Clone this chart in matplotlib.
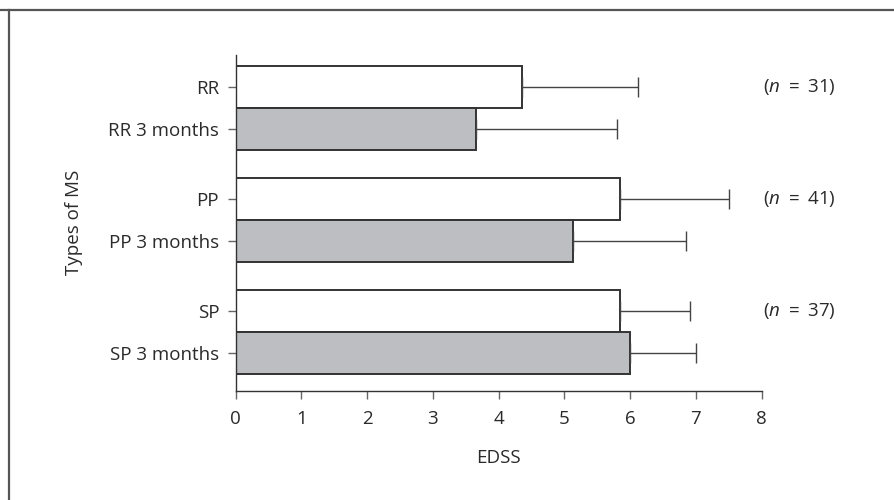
import matplotlib
matplotlib.use('Agg')
import matplotlib.pyplot as plt
from matplotlib.lines import Line2D

plt.rcParams['font.family'] = ['Open Sans', 'DejaVu Sans']
plt.rcParams['mathtext.fontset'] = 'custom'
plt.rcParams['mathtext.rm'] = 'Open Sans'
plt.rcParams['mathtext.it'] = 'Open Sans:italic'

groups = ['RR', 'PP', 'SP']
n_counts = [31, 41, 37]
baseline = [4.35, 5.85, 5.85]
baseline_sd = [1.77, 1.65, 1.06]
month3 = [3.66, 5.13, 6.0]
month3_sd = [2.14, 1.72, 1.0]

fig = plt.figure(figsize=(8.94, 5), dpi=100)
ax = fig.add_axes([0.2637, 0.2186, 0.5883, 0.6714])

# frame lines at top and left of the figure
fig.add_artist(Line2D([0, 1], [0.981, 0.981], transform=fig.transFigure, color='#555555', lw=1.6))
fig.add_artist(Line2D([0.0106, 0.0106], [0, 0.981], transform=fig.transFigure, color='#555555', lw=1.6))

fs = 13.5
txt = '#2a2a2a'
pitch = 2.67
base_y = 0.9
ypos = []
ylabels = []
err_kw = dict(ecolor='#444444', elinewidth=1.0, capsize=7, capthick=1.0)
for i, g in enumerate(groups):
    k = len(groups) - 1 - i
    y3 = base_y + k * pitch
    y0 = y3 + 1
    ax.barh(y0, baseline[i], height=1, color='white', edgecolor='#333333', linewidth=1.4,
            xerr=[[0], [baseline_sd[i]]], error_kw=err_kw, zorder=2)
    ax.barh(y3, month3[i], height=1, color='#bdbec2', edgecolor='#333333', linewidth=1.4,
            xerr=[[0], [month3_sd[i]]], error_kw=err_kw, zorder=2)
    ax.text(8.02, y0, '$\\mathrm{(}\\mathit{n}\\ \\mathrm{=}\\ \\mathrm{%d)}$' % n_counts[i],
            ha='left', va='center', fontsize=fs, color=txt, clip_on=False)
    ypos += [y0, y3]
    ylabels += [g, g + ' 3 months']

ax.set_xlim(0, 8)
ax.set_ylim(0, 8)
ax.set_yticks(ypos)
ax.set_yticklabels(ylabels)
ax.set_xticks(range(9))
for s in ['top', 'right']:
    ax.spines[s].set_visible(False)
for s in ['left', 'bottom']:
    ax.spines[s].set_color('#333333')
    ax.spines[s].set_linewidth(1.0)
ax.tick_params(axis='both', direction='out', length=6, width=1.0, color='#666666',
               labelsize=fs, labelcolor=txt)
ax.tick_params(axis='x', pad=8)
ax.tick_params(axis='y', pad=6)
ax.set_xlabel('EDSS', fontsize=fs, color=txt, labelpad=15)
ax.set_ylabel('Types of MS', fontsize=fs, color=txt, labelpad=18)

fig.savefig('out.png', dpi=100)
